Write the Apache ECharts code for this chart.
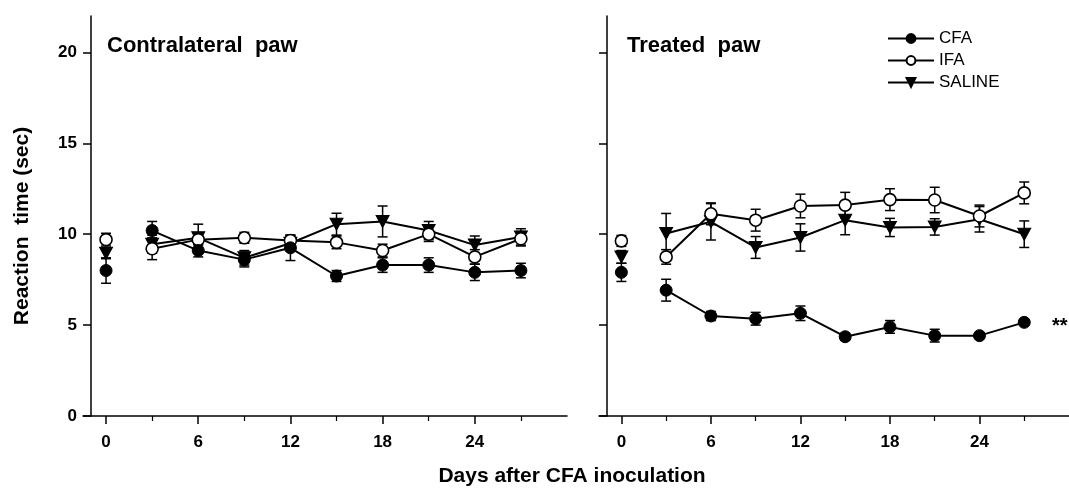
<!DOCTYPE html>
<html><head><meta charset="utf-8">
<script src="https://cdn.jsdelivr.net/npm/echarts@6/dist/echarts.min.js"></script>
<style>html,body{margin:0;padding:0;background:#fff}#c{width:1069px;height:489px}</style>
</head><body><div id="c"></div>
<script>
const days = [0,3,6,9,12,15,18,21,24,27];
const majorTicks = [0,6,12,18,24];
const minorTicks = [3,9,15,21,27];
const yTicks = [0,5,10,15,20];
const seriesNames = ['CFA','IFA','SALINE'];
// Contralateral paw
const contraCFA    = [8.0,10.2,9.1,8.6,9.25,7.7,8.3,8.3,7.9,8.0];
const contraCFAerr = [0.7,0.5,0.35,0.4,0.7,0.3,0.4,0.4,0.45,0.4];
const contraIFA    = [9.7,9.2,9.7,9.8,9.65,9.55,9.1,10.0,8.75,9.75];
const contraIFAerr = [0.35,0.6,0.3,0.3,0.3,0.35,0.35,0.4,0.4,0.4];
const contraSAL    = [8.95,9.45,9.8,8.7,9.5,10.55,10.7,10.2,9.4,9.85];
const contraSALerr = [0.3,0.5,0.75,0.4,0.4,0.6,0.85,0.5,0.5,0.45];
// Treated paw
const treatCFA    = [7.9,6.92,5.5,5.35,5.65,4.36,4.9,4.42,4.42,5.15];
const treatCFAerr = [0.5,0.6,0.25,0.35,0.4,0.2,0.35,0.35,0.15,0.15];
const treatIFA    = [9.63,8.75,11.12,10.77,11.55,11.6,11.9,11.88,11.0,12.27];
const treatIFAerr = [0.3,0.4,0.6,0.6,0.65,0.7,0.6,0.7,0.6,0.6];
const treatSAL    = [8.75,10.04,10.68,9.27,9.82,10.77,10.37,10.4,10.82,10.0];
const treatSALerr = [0.35,1.1,1.0,0.6,0.75,0.8,0.5,0.45,0.7,0.73];

const FONT = 'Liberation Sans, Arial, sans-serif';
const chart = echarts.init(document.getElementById('c'));

const symbolStyle = {
  CFA:    {symbol:'circle', symbolSize:12, symbolRotate:0, itemStyle:{color:'#000', borderColor:'#000', borderWidth:1, opacity:1}},
  IFA:    {symbol:'circle', symbolSize:12, symbolRotate:0, itemStyle:{color:'#fff', borderColor:'#000', borderWidth:1.6, opacity:1}},
  SALINE: {symbol:'triangle', symbolSize:[13,12], symbolRotate:180, itemStyle:{color:'#000', borderColor:'#000', borderWidth:1, opacity:1}}
};

function errSeries(panel, vals, errs) {
  return {
    type:'custom', xAxisIndex: panel*2, yAxisIndex: panel, z: 2, silent:true,
    data: days.map((d,i)=>[d, vals[i]-errs[i], vals[i]+errs[i]]),
    renderItem: function(params, api){
      const x = api.value(0);
      const lo = api.coord([x, api.value(1)]);
      const hi = api.coord([x, api.value(2)]);
      const w = 5;
      const st = {stroke:'#000', lineWidth:1.5};
      return {type:'group', children:[
        {type:'line', shape:{x1:lo[0], y1:lo[1], x2:hi[0], y2:hi[1]}, style:st},
        {type:'line', shape:{x1:lo[0]-w, y1:lo[1], x2:lo[0]+w, y2:lo[1]}, style:st},
        {type:'line', shape:{x1:hi[0]-w, y1:hi[1], x2:hi[0]+w, y2:hi[1]}, style:st}
      ]};
    }
  };
}
function lineSeries(panel, name, vals) {
  const s = symbolStyle[name];
  return Object.assign({
    type:'line', name:name, xAxisIndex: panel*2, yAxisIndex: panel, z: 3,
    data: days.slice(1).map((d,i)=>[d, vals[i+1]]),
    lineStyle:{color:'#000', width:2}, showSymbol:true, animation:false
  }, JSON.parse(JSON.stringify(s)));
}
function baseSeries(panel, name, vals) {
  const s = symbolStyle[name];
  return Object.assign({
    type:'scatter', name:name, xAxisIndex: panel*2, yAxisIndex: panel, z: 3,
    data: [[days[0], vals[0]]], animation:false
  }, JSON.parse(JSON.stringify(s)));
}

const grids = [
  {left:83, top:16, width:484, height:400},
  {left:599, top:16, width:484, height:400}
];
const xAxes = [];
const yAxes = [];
[0,1].forEach(p=>{
  xAxes.push({type:'value', gridIndex:p, position:'bottom', min:-1.5, max:30,
    axisLine:{show:true, onZero:false, lineStyle:{color:'#000', width:1.5}},
    axisTick:{show:true, customValues: majorTicks, length:8, lineStyle:{color:'#000', width:1.5}},
    axisLabel:{show:true, customValues: majorTicks, margin:18, color:'#000', fontFamily:FONT, fontWeight:'bold', fontSize:17},
    splitLine:{show:false}});
  xAxes.push({type:'value', gridIndex:p, position:'bottom', min:-1.5, max:30,
    axisLine:{show:false, onZero:false},
    axisTick:{show:true, customValues: minorTicks, length:5, lineStyle:{color:'#000', width:1.2}},
    axisLabel:{show:false}, splitLine:{show:false}});
  yAxes.push({type:'value', gridIndex:p, position:'left', offset:-8, min:0, max:22,
    axisLine:{show:true, onZero:false, lineStyle:{color:'#000', width:1.5}},
    axisTick:{show:true, customValues: yTicks, length:8, lineStyle:{color:'#000', width:1.5}},
    axisLabel:{show:p===0, customValues: yTicks, margin:14, color:'#000', fontFamily:FONT, fontWeight:'bold', fontSize:17},
    splitLine:{show:false}});
});

const panels = [
  [contraCFA, contraCFAerr, contraIFA, contraIFAerr, contraSAL, contraSALerr],
  [treatCFA, treatCFAerr, treatIFA, treatIFAerr, treatSAL, treatSALerr]
];
const series = [];
panels.forEach((arr,p)=>{
  series.push(errSeries(p, arr[0], arr[1]));
  series.push(errSeries(p, arr[2], arr[3]));
  series.push(errSeries(p, arr[4], arr[5]));
  series.push(lineSeries(p, 'SALINE', arr[4]));
  series.push(lineSeries(p, 'IFA', arr[2]));
  series.push(lineSeries(p, 'CFA', arr[0]));
  series.push(baseSeries(p, 'SALINE', arr[4]));
  series.push(baseSeries(p, 'IFA', arr[2]));
  series.push(baseSeries(p, 'CFA', arr[0]));
});

chart.setOption({
  animation:false,
  backgroundColor:'#fff',
  grid: grids,
  xAxis: xAxes,
  yAxis: yAxes,
  title: [
    {text:'Contralateral  paw', left:102, top:30, textStyle:{fontFamily:FONT, fontWeight:'bold', fontSize:22, color:'#000'}},
    {text:'Treated  paw', left:622, top:30, textStyle:{fontFamily:FONT, fontWeight:'bold', fontSize:22, color:'#000'}}
  ],
  legend: {
    data: seriesNames, orient:'vertical', left:882, top:25,
    itemWidth:46, itemHeight:11, itemGap:5, selectedMode:false,
    textStyle:{fontFamily:FONT, fontSize:17, color:'#000', lineHeight:14}
  },
  graphic: [
    {type:'text', x:22, y:226, rotation:Math.PI/2, style:{text:'Reaction  time (sec)', fontFamily:FONT, fontWeight:'bold', fontSize:21, fill:'#000', textAlign:'center', textVerticalAlign:'middle'}},
    {type:'text', x:572, y:476, style:{text:'Days after CFA inoculation', fontFamily:FONT, fontWeight:'bold', fontSize:21, fill:'#000', textAlign:'center', textVerticalAlign:'middle'}},
    {type:'text', x:1052, y:326, style:{text:'**', fontFamily:FONT, fontWeight:'bold', fontSize:20, fill:'#000', textAlign:'left', textVerticalAlign:'middle'}}
  ],
  series: series
});
</script></body></html>
